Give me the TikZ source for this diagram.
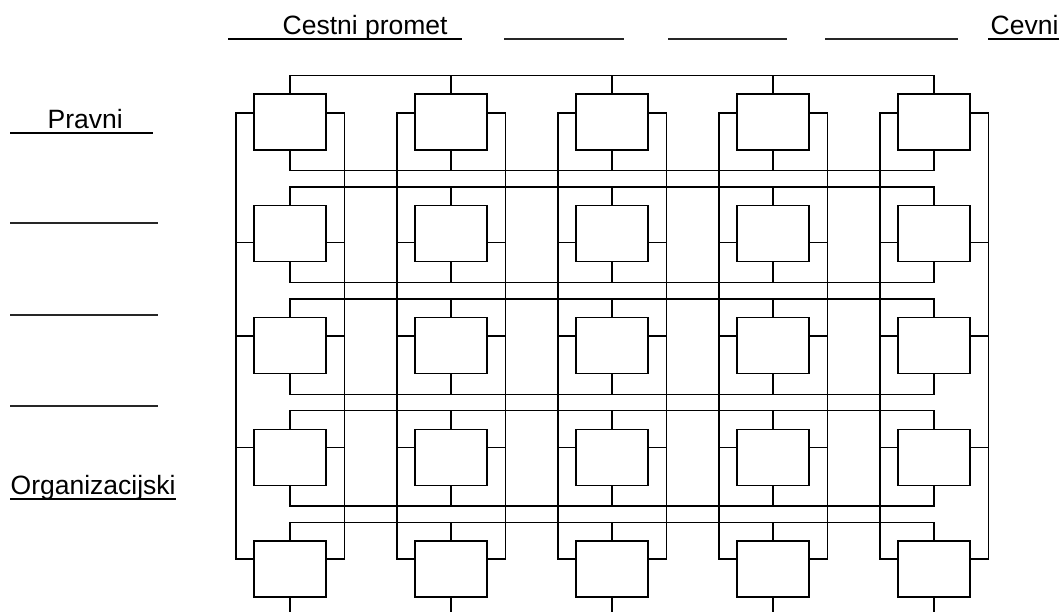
\documentclass[tikz,border=0pt]{standalone}
\usepackage{fontspec}
\setmainfont{Liberation Sans}
\tikzset{
  unit/.style = {draw, minimum width=72pt, minimum height=56pt, inner sep=0pt},
  caption/.style = {font=\fontsize{26.5}{30}\selectfont, inner sep=0pt, anchor=base west},
  uline/.style = {line width=1.7pt},
  blank/.style = {line width=1.4pt, black!85}
}

\begin{document}
\begin{tikzpicture}[x=1pt,y=-1pt,line width=1.3pt]
  \useasboundingbox (0,0) rectangle (1059,612);
  \foreach \r in {1,...,5}
    \foreach \c in {1,...,5}
      \node[unit] (b-\r-\c) at ({290+161*(\c-1)},{122+111.75*(\r-1)}) {};

  \foreach \r in {1,...,5} {
    \draw (b-\r-1.north) -- ++(0,-18) -| (b-\r-5.north);
    \foreach \c in {2,3,4}
      \draw (b-\r-\c.north) -- ++(0,-18);
  }
  \foreach \r in {1,...,4} {
    \draw (b-\r-1.south) -- ++(0,20) -| (b-\r-5.south);
    \foreach \c in {2,3,4}
      \draw (b-\r-\c.south) -- ++(0,20);
  }
  \foreach \c in {1,...,5} {
    \draw (b-5-\c.south) -- ++(0,17);
    \draw ([yshift=9pt]b-1-\c.west) -| ([xshift=-17.5pt,yshift=10pt]b-5-\c.west) -- ([yshift=10pt]b-5-\c.west);
    \draw ([yshift=9pt]b-1-\c.east) -| ([xshift=17.5pt,yshift=10pt]b-5-\c.east) -- ([yshift=10pt]b-5-\c.east);
    \foreach \r/\s in {2/-9,3/9.5,4/10} {
      \draw ([yshift=\s pt]b-\r-\c.west) -- ++(-17.5,0);
      \draw ([yshift=\s pt]b-\r-\c.east) -- ++(17.5,0);
    }
  }

  \node[caption] (cestni) at (282,35) {Cestni promet};
  \node[caption] (cevni) at (990,35) {Cevni};
  \node[caption] (pravni) at (47,129) {Pravni};
  \node[caption] (org) at (10,494) {Organizacijski};
  \draw[uline] (228,39) -- (462,39);
  \draw[uline] (988,39) -- (1059,39);
  \draw[uline] (10,133) -- (153,133);
  \draw[uline] (10,499) -- (176,499);
  \foreach \a/\b in {504/624,668/787,825/958}
    \draw[blank] (\a,39) -- (\b,39);
  \foreach \y in {223,315,406}
    \draw[blank] (10,\y) -- (158,\y);
\end{tikzpicture}
\end{document}
